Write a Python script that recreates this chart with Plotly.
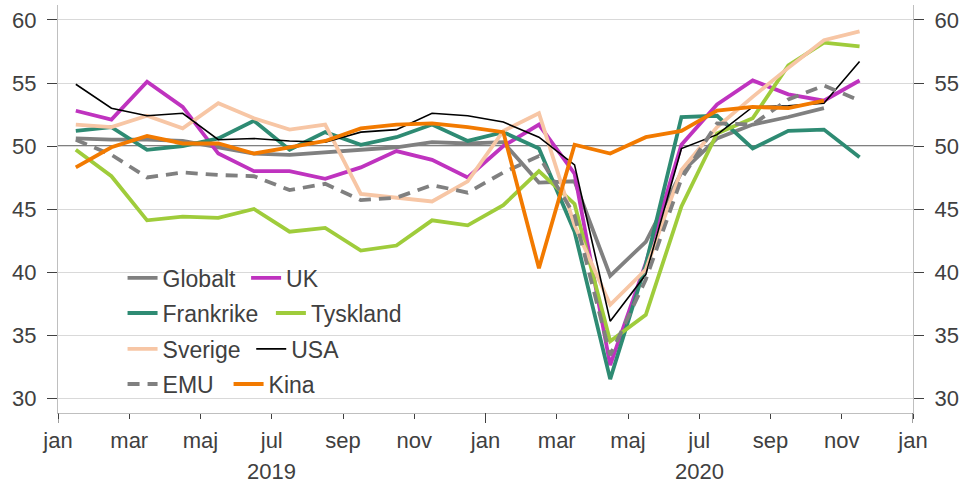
import plotly.graph_objects as go

# ---- data (monthly PMI, Jan 2019 - Nov 2020) ----
months = ['2019-01', '2019-02', '2019-03', '2019-04', '2019-05', '2019-06',
          '2019-07', '2019-08', '2019-09', '2019-10', '2019-11', '2019-12',
          '2020-01', '2020-02', '2020-03', '2020-04', '2020-05', '2020-06',
          '2020-07', '2020-08', '2020-09', '2020-10', '2020-11']

globalt = [50.6, 50.5, 50.5, 50.4, 49.9, 49.4, 49.3, 49.5, 49.7, 49.9, 50.3, 50.2,
           50.3, 47.1, 47.2, 39.7, 42.4, 47.9, 50.6, 51.7, 52.3, 53.0]
uk = [52.8, 52.1, 55.1, 53.1, 49.4, 48.0, 48.0, 47.4, 48.3, 49.6, 48.9, 47.5,
      50.0, 51.7, 47.8, 32.6, 40.7, 50.1, 53.3, 55.2, 54.1, 53.6, 55.2]
frankrike = [51.2, 51.5, 49.7, 50.0, 50.6, 52.0, 49.7, 51.1, 50.1, 50.7, 51.7, 50.4,
             51.1, 49.8, 43.2, 31.5, 40.6, 52.3, 52.4, 49.8, 51.2, 51.3, 49.1]
tyskland = [49.7, 47.6, 44.1, 44.4, 44.3, 45.0, 43.2, 43.5, 41.7, 42.1, 44.1, 43.7,
            45.3, 48.0, 45.4, 34.5, 36.6, 45.2, 51.0, 52.2, 56.4, 58.2, 57.9]
sverige = [51.7, 51.5, 52.4, 51.4, 53.4, 52.2, 51.3, 51.7, 46.2, 45.9, 45.6, 47.2,
           51.2, 52.6, 43.7, 37.4, 40.2, 48.1, 51.5, 53.9, 56.2, 58.4, 59.1]
usa = [54.9, 53.0, 52.4, 52.6, 50.5, 50.6, 50.4, 50.3, 51.1, 51.3, 52.6, 52.4,
       51.9, 50.7, 48.5, 36.1, 39.8, 49.8, 50.9, 53.1, 53.2, 53.4, 56.7]
emu = [50.5, 49.3, 47.5, 47.9, 47.7, 47.6, 46.5, 47.0, 45.7, 45.9, 46.9, 46.3,
       47.9, 49.2, 44.5, 33.4, 39.4, 47.4, 51.8, 51.7, 53.7, 54.8, 53.6]
kina = [48.3, 49.9, 50.8, 50.2, 50.2, 49.4, 49.9, 50.4, 51.4, 51.7, 51.8, 51.5,
        51.1, 40.3, 50.1, 49.4, 50.7, 51.2, 52.8, 53.1, 53.0, 53.6]

tick_labels = ['jan', 'mar', 'maj', 'jul', 'sep', 'nov',
               'jan', 'mar', 'maj', 'jul', 'sep', 'nov', 'jan']
years = ['2019', '2020']
y_ticks = [30, 35, 40, 45, 50, 55, 60]
ref_level = 50

# ---- styling ----
FONT = 'Liberation Sans, Arial, sans-serif'
TXT = '#404040'
# name, values, color, width, dash, legend-id, legend x (paper), legend y (paper)
series = [
    ('Globalt', globalt, '#808080', 3.8, None, 'legend', 0.0755, 0.331),
    ('UK', uk, '#BF33BF', 3.8, None, 'legend2', 0.2200, 0.331),
    ('Frankrike', frankrike, '#2E8B73', 3.8, None, 'legend3', 0.0755, 0.245),
    ('Tyskland', tyskland, '#9FCC3B', 3.8, None, 'legend4', 0.2490, 0.245),
    ('Sverige', sverige, '#F7C6A5', 3.8, None, 'legend5', 0.0755, 0.157),
    ('USA', usa, '#000000', 1.6, None, 'legend6', 0.2260, 0.157),
    ('EMU', emu, '#808080', 3.8, '12px,8px', 'legend7', 0.0755, 0.071),
    ('Kina', kina, '#F27A00', 3.8, None, 'legend8', 0.1995, 0.071),
]

n_axis = len(tick_labels) * 2 - 2  # months spanned by axis (jan 2019 -> jan 2021)

fig = go.Figure()
legend_layout = {}
for name, vals, col, w, dash, lg, lx, ly in series:
    xs = [i + 0.5 for i in range(len(vals))]
    fig.add_trace(go.Scatter(
        x=xs, y=vals, mode='lines', name=name,
        line=dict(color=col, width=w, dash=dash if dash else 'solid'),
        legend=lg, hoverinfo='skip'))
    legend_layout[lg] = dict(x=lx, y=ly, xanchor='left', yanchor='middle',
                             bgcolor='rgba(0,0,0,0)', borderwidth=0,
                             font=dict(family=FONT, size=23, color=TXT), itemwidth=30)

# invisible trace to activate right-hand axis
fig.add_trace(go.Scatter(x=[0.5], y=[globalt[0]], yaxis='y2', mode='lines',
                         line=dict(color='rgba(0,0,0,0)', width=0),
                         showlegend=False, hoverinfo='skip'))

yr = [28.81, 61.19]
axis_common = dict(range=yr, tickvals=y_ticks, ticks='outside', ticklen=10,
                   tickcolor=TXT, tickwidth=1, showline=True, linecolor='#bfbfbf',
                   linewidth=1, tickfont=dict(family=FONT, size=22, color=TXT),
                   ticklabelstandoff=6, ticklabeloverflow='allow',
                   zeroline=False, fixedrange=True)

fig.update_layout(
    width=963, height=484, autosize=False,
    margin=dict(l=58, r=50, t=5, b=71),
    paper_bgcolor='white', plot_bgcolor='white',
    showlegend=True,
    xaxis=dict(range=[0, n_axis], tickvals=list(range(0, n_axis + 1, 2)),
               ticktext=tick_labels, ticks='outside', ticklen=5, tickcolor=TXT,
               showline=True, linecolor='#bfbfbf', linewidth=1, showgrid=False,
               zeroline=False, ticklabelstandoff=3, fixedrange=True,
               tickfont=dict(family=FONT, size=22, color=TXT)),
    yaxis=dict(**axis_common, showgrid=True, gridcolor='#d9d9d9', gridwidth=1),
    yaxis2=dict(**axis_common, overlaying='y', side='right', showgrid=False),
    **legend_layout,
)

shapes = []
# reference line at 50
shapes.append(dict(type='line', xref='paper', x0=0, x1=1, yref='y', y0=ref_level, y1=ref_level,
                   line=dict(color='#808080', width=2), layer='between'))
# legend white box
shapes.append(dict(type='rect', xref='paper', x0=0.0725, x1=0.435, yref='paper', y0=0.032, y1=0.37,
                   fillcolor='white', line=dict(width=0), layer='between'))
# longer year-separator ticks
for k in range(0, n_axis + 1, 12):
    shapes.append(dict(type='line', xref='x', x0=k, x1=k, yref='paper', y0=0, y1=-10 / 408,
                       line=dict(color=TXT, width=1)))
fig.update_layout(shapes=shapes)

for j, yl in enumerate(years):
    fig.add_annotation(x=6 + 12 * j, y=-0.144, xref='x', yref='paper', text=yl,
                       showarrow=False, yanchor='middle',
                       font=dict(family=FONT, size=22, color=TXT))

fig.write_html('out.html',
               config={'displayModeBar': False},
               post_script="document.body.style.margin='0';document.body.style.overflow='hidden';")
